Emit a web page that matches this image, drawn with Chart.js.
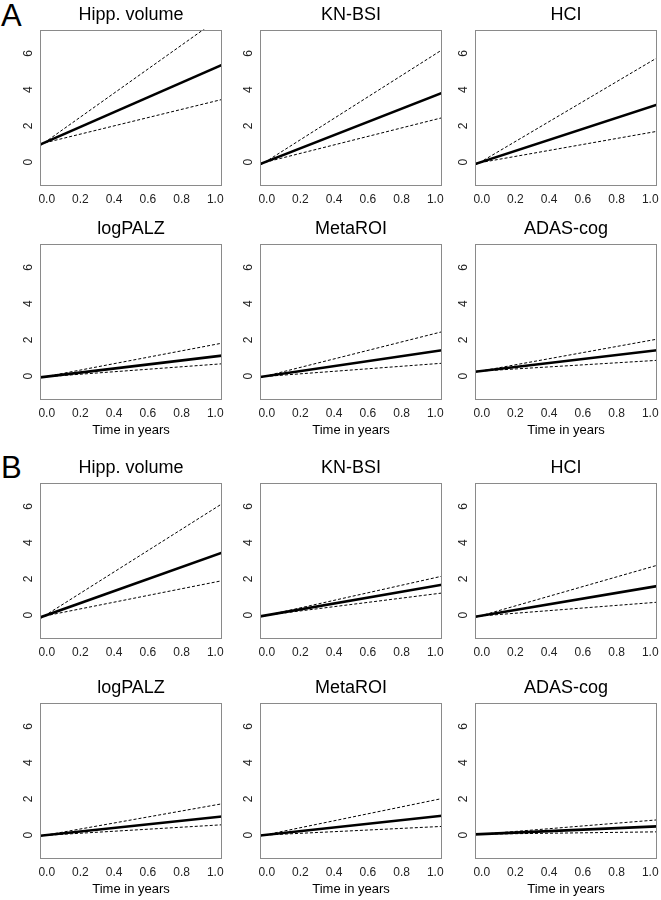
<!DOCTYPE html>
<html>
<head>
<meta charset="utf-8">
<script src="https://cdn.jsdelivr.net/npm/chart.js@4.4.0/dist/chart.umd.min.js"></script>
<style>
  body { margin: 0; background: #fff; width: 661px; height: 900px; position: relative; overflow: hidden;
         font-family: "Liberation Sans", Arial, sans-serif; }
  canvas { position: absolute; }
  .tag { position: absolute; font-size: 31px; line-height: 31px; color: #000; }
</style>
</head>
<body>
<div class="tag" style="left:1px;top:0px">A</div>
<div class="tag" style="left:1px;top:452px">B</div>

<script>
// --- data ---
const panelTitles = ["Hipp. volume", "KN-BSI", "HCI", "logPALZ", "MetaROI", "ADAS-cog"];
const xTitle = "Time in years";
const xTicks = [0, 0.2, 0.4, 0.6, 0.8, 1.0];
const yTicks = [0, 2, 4, 6];
const xEnds = [-0.04, 1.04]; // lines run from edge to edge of each plot

// value of each line at the left and right plot edge, panels in reading order
const meanA  = [[0.97, 5.37], [-0.11, 3.82], [-0.11, 3.17], [-0.07, 1.13], [-0.05, 1.43], [0.24, 1.43]];
const upperA = [[0.90, 8.05], [-0.18, 6.20], [-0.18, 5.76], [-0.09, 1.82], [-0.08, 2.45], [0.22, 2.04]];
const lowerA = [[1.00, 3.46], [-0.08, 2.45], [-0.08, 1.70], [-0.06, 0.68], [-0.04, 0.71], [0.26, 0.87]];
const meanB  = [[-0.13, 3.45], [-0.07, 1.68], [-0.09, 1.60], [-0.04, 1.03], [-0.02, 1.07], [0.04, 0.48]];
const upperB = [[-0.20, 6.15], [-0.10, 2.15], [-0.13, 2.75], [-0.06, 1.73], [-0.05, 2.02], [0.02, 0.84]];
const lowerB = [[-0.10, 1.90], [-0.05, 1.22], [-0.07, 0.71], [-0.03, 0.57], [-0.01, 0.48], [0.05, 0.18]];

const groups = [
  { mean: meanA, upper: upperA, lower: lowerA, rowTops: [29, 243] },
  { mean: meanB, upper: upperB, lower: lowerB, rowTops: [482, 702] },
];
const colLefts = [40, 260, 475];
const boxW = 182, boxH = 157;
const FONT = "'Liberation Sans', Arial, sans-serif";
const GREY = "#8a8a8a";

// grey frame round the plot region
const boxPlugin = {
  id: "box",
  afterDraw(chart) {
    const { ctx, chartArea: a } = chart;
    ctx.save();
    ctx.strokeStyle = GREY;
    ctx.lineWidth = 1;
    ctx.strokeRect(Math.round(a.left) + 0.5, Math.round(a.top) + 0.5, Math.round(a.width) - 1, Math.round(a.height) - 1);
    ctx.restore();
  }
};

function pts(pair) {
  return xEnds.map((x, i) => ({ x: x, y: pair[i] }));
}

groups.forEach(g => {
  panelTitles.forEach((title, p) => {
    const row = Math.floor(p / 3), col = p % 3;
    const withXTitle = row === 1;
    const axisH = withXTitle ? 38 : 24;
    const c = document.createElement("canvas");
    const w = 40 + boxW + 12, h = 25 + boxH + axisH;
    c.width = w; c.height = h;
    c.style.width = w + "px"; c.style.height = h + "px";
    c.style.left = (colLefts[col] - 40) + "px";
    c.style.top = (g.rowTops[row] - 25) + "px";
    document.body.appendChild(c);

    const dashed = { borderColor: "#000", borderWidth: 1, borderDash: [3, 2], pointRadius: 0, fill: false };
    new Chart(c.getContext("2d"), {
      type: "line",
      data: {
        datasets: [
          Object.assign({ data: pts(g.upper[p]) }, dashed),
          Object.assign({ data: pts(g.lower[p]) }, dashed),
          { data: pts(g.mean[p]), borderColor: "#000", borderWidth: 2.6, pointRadius: 0, fill: false },
        ]
      },
      options: {
        responsive: false,
        animation: false,
        devicePixelRatio: 1,
        layout: { padding: { left: 0, right: 12, top: 0, bottom: 0 } },
        plugins: {
          legend: { display: false },
          tooltip: { enabled: false },
          title: {
            display: true, text: title, color: "#000", fullSize: false,
            font: { family: FONT, size: 18, weight: "normal", lineHeight: 1.2 },
            padding: { top: 0, bottom: 4 }
          }
        },
        scales: {
          x: {
            type: "linear", min: -0.04, max: 1.04,
            afterBuildTicks: s => { s.ticks = xTicks.map(v => ({ value: v })); },
            afterFit: s => { s.height = axisH; s.paddingLeft = 0; s.paddingRight = 0; },
            ticks: { color: "#222", padding: 6.5, maxRotation: 0, autoSkip: false,
                     font: { family: FONT, size: 12 }, callback: v => v.toFixed(1) },
            grid: { display: false, drawTicks: false },
            border: { display: false },
            title: { display: withXTitle, text: xTitle, color: "#000",
                     font: { family: FONT, size: 13 }, padding: { top: 0, bottom: 0 } }
          },
          y: {
            type: "linear", min: -1.32, max: 7.32,
            afterBuildTicks: s => { s.ticks = yTicks.map(v => ({ value: v })); },
            afterFit: s => { s.width = 40; s.paddingTop = 0; s.paddingBottom = 0; },
            ticks: { color: "#222", padding: 8, minRotation: 90, maxRotation: 90, crossAlign: "center",
                     font: { family: FONT, size: 12 } },
            grid: { display: false, drawTicks: false },
            border: { display: false }
          }
        }
      },
      plugins: [boxPlugin]
    });
  });
});
</script>
</body>
</html>
